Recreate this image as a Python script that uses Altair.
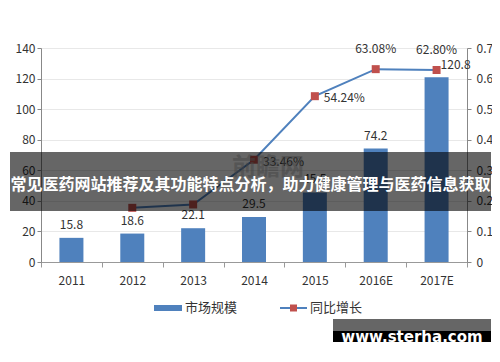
import altair as alt
import pandas as pd

years = ["2011", "2012", "2013", "2014", "2015", "2016E", "2017E"]
market = [15.8, 18.6, 22.1, 29.5, 45.5, 74.2, 120.8]
bar_text = ["15.8", "18.6", "22.1", "29.5", "45.5", "74.2", "120.8"]
growth = [None, 0.1772, 0.1882, 0.3346, 0.5424, 0.6308, 0.6280]
growth_text = ["", "17.72%", "18.82%", "33.46%", "54.24%", "63.08%", "62.80%"]
left_ticks = [0, 20, 40, 60, 80, 100, 120, 140]
right_ticks = [0, 0.1, 0.2, 0.3, 0.4, 0.5, 0.6, 0.7]
legend_names = ["市场规模", "同比增长"]
title_text = "常见医药网站推荐及其功能特点分析，助力健康管理与医药信息获取"
site_text = "www.sterha.com"
brand_text = "前瞻网"

BLUE = "#4F81BD"
RED = "#C0504D"
FONT = "Noto Sans CJK SC"

df = pd.DataFrame({"year": years, "market": market, "blabel": bar_text,
                   "growth": growth, "glabel": growth_text})

W, H = 426, 214

xenc = alt.X("year:N", sort=years, title=None,
             scale=alt.Scale(paddingInner=0, paddingOuter=0),
             axis=alt.Axis(labelAngle=0, tickBand="extent", domainColor="#999",
                           tickColor="#999", tickSize=5, labelFontSize=12,
                           labelColor="#333", labelPadding=8, labelFont=FONT,
                           grid=False))

yleft = alt.Y("market:Q", title=None, scale=alt.Scale(domain=[0, 140]),
              axis=alt.Axis(values=left_ticks, grid=True, gridColor="#E8E8E8",
                            domainColor="#888", tickColor="#888", tickSize=4,
                            labelFontSize=12, labelColor="#333", labelPadding=2,
                            labelFont=FONT))

yright = alt.Y("growth:Q", title=None, scale=alt.Scale(domain=[0, 0.7]),
               axis=alt.Axis(orient="right", values=right_ticks, format="~g",
                             grid=False, domainColor="#888", tickColor="#888",
                             tickSize=4, labelFontSize=12, labelColor="#333",
                             labelPadding=5, labelFont=FONT))

base = alt.Chart(df)

bars = base.mark_bar(size=24, color=BLUE).encode(x=xenc, y=yleft)
bar_labels = base.transform_filter(alt.datum.year != "2017E").mark_text(
    dy=-13, fontSize=12, color="#333", font=FONT
).encode(x=xenc, y=yleft, text="blabel:N")
bar_label_last = base.transform_filter(alt.datum.year == "2017E").mark_text(
    dx=19, dy=-12, fontSize=12, color="#333", font=FONT
).encode(x=xenc, y=yleft, text="blabel:N")

left_layer = alt.layer(bars, bar_labels, bar_label_last)

gbase = base.transform_filter("isValid(datum.growth)")
line = gbase.mark_line(color=BLUE, strokeWidth=2).encode(x=xenc, y=yright)
pts = gbase.mark_point(shape="square", filled=True, color=RED, size=64, opacity=1).encode(x=xenc, y=yright)
glab_right = gbase.transform_filter(
    (alt.datum.year == "2014") | (alt.datum.year == "2015")
).mark_text(align="left", dx=9, dy=2, fontSize=12, color="#333", font=FONT).encode(
    x=xenc, y=yright, text="glabel:N")
glab_top = gbase.transform_filter(
    (alt.datum.year == "2016E") | (alt.datum.year == "2017E")
).mark_text(dy=-20, fontSize=12, color="#333", font=FONT).encode(
    x=xenc, y=yright, text="glabel:N")

right_layer = alt.layer(line, pts, glab_right, glab_top)

main = alt.layer(left_layer, right_layer).resolve_scale(y="independent")

deco = alt.Chart(pd.DataFrame({"t": [title_text], "s": [site_text], "b": [brand_text],
                               "l1": [legend_names[0]], "l2": [legend_names[1]]}))

brand = deco.mark_text(fontSize=24, color="#AAAAAA", opacity=0.5, font=FONT,
                       fontWeight="bold").encode(
    x=alt.value(227), y=alt.value(120), text="b:N")
banner = deco.mark_rect(color="black", opacity=0.6).encode(
    x=alt.value(-31), x2=alt.value(450), y=alt.value(104), y2=alt.value(163))
banner_text = deco.mark_text(color="white", fontSize=16, fontWeight="bold", font=FONT,
                             align="center", baseline="middle").encode(
    x=alt.value(209.5), y=alt.value(137), text="t:N")

leg_rect = deco.mark_rect(color=BLUE).encode(
    x=alt.value(113), x2=alt.value(141), y=alt.value(257), y2=alt.value(263))
leg_t1 = deco.mark_text(align="left", baseline="middle", fontSize=13, color="#333",
                        font=FONT).encode(x=alt.value(144), y=alt.value(260), text="l1:N")
leg_line = deco.mark_rule(color=BLUE, strokeWidth=2).encode(
    x=alt.value(239), x2=alt.value(266), y=alt.value(260))
leg_pt = deco.mark_point(shape="square", filled=True, color=RED, size=49, opacity=1).encode(
    x=alt.value(252.5), y=alt.value(260))
leg_t2 = deco.mark_text(align="left", baseline="middle", fontSize=13, color="#333",
                        font=FONT).encode(x=alt.value(269), y=alt.value(260), text="l2:N")

wm_gray = deco.mark_rect(color="#666666").encode(
    x=alt.value(292), x2=alt.value(450), y=alt.value(271), y2=alt.value(283))
wm_black = deco.mark_rect(color="black").encode(
    x=alt.value(292), x2=alt.value(450), y=alt.value(283), y2=alt.value(305))
wm_text = deco.mark_text(color="white", fontSize=15, fontWeight="bold", font="DejaVu Sans",
                         align="center", baseline="middle").encode(
    x=alt.value(371), y=alt.value(289), text="s:N")

chart = alt.layer(
    main, brand, banner, banner_text, leg_rect, leg_t1, leg_line, leg_pt, leg_t2,
    wm_gray, wm_black, wm_text
).resolve_scale(y="independent").properties(
    width=W, height=H,
    padding={"left": 33, "top": 40, "right": 25, "bottom": 80},
    autosize=alt.AutoSizeParams(type="none"),
    background="white",
).configure_view(stroke=None)

chart.save("out.html", embed_options={"renderer": "svg", "actions": False})
